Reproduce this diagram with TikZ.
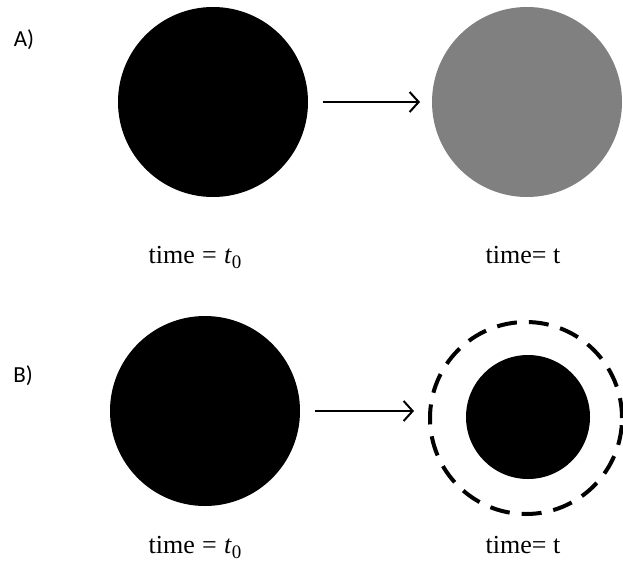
\documentclass[tikz,border=0pt]{standalone}
\usepackage{fontspec}
\setmainfont{Liberation Serif}
\newfontfamily\panelfont{Carlito}
\usepackage{tikz}
\usetikzlibrary{arrows.meta,positioning}
\definecolor{dropgray}{HTML}{808080}
\newcommand{\tzero}{\textit{t}\raisebox{-0.22em}{\fontsize{19}{21}\selectfont 0}}
\tikzset{
  drop/.style={circle,minimum size=#1,inner sep=0pt,outer sep=0pt},
  drop/.default={190pt},
  shell/.style={circle,draw=black,line width=4pt,dash pattern=on 20pt off 12pt,
    minimum size=192pt,inner sep=0pt},
  flow/.style={-{Straight Barb[length=9pt,width=20pt]},line width=2pt,
    shorten <=15pt,shorten >=12pt},
  timelabel/.style={anchor=base,font=\fontsize{26}{30}\selectfont,inner sep=0pt},
  panel/.style={font=\panelfont\fontsize{23}{27}\selectfont,inner sep=0pt},
}

\begin{document}
\begin{tikzpicture}[x=1pt,y=-1pt]
  \useasboundingbox (0,0) rectangle (623,565);
  % A) the drop keeps its size and turns grey
  \node[panel] (pa) at (24,40) {A)};
  \node[drop,fill=black] (a1) at (213,102) {};
  \node[drop,fill=dropgray] (a2) at (527,102) {};
  \draw[flow] (a1.east) -- (a2.west);
  \node[timelabel] (la1) at (195,263) {time\hspace{0.28em}=\hspace{0.28em}\tzero};
  \node[timelabel] (la2) at (523,263) {time= t};
  % B) the drop shrinks inside its old outline
  \node[panel] (pb) at (23,376) {B)};
  \node[drop,fill=black] (b1) at (205,411) {};
  \node[shell] (b2) at (526,418) {};
  \node[drop=124pt,fill=black] (b2in) at (528,417) {};
  \draw[flow,shorten >=14pt] (b1.east) -- (b2.west |- b1.east);
  \node[timelabel] (lb1) at (195,553) {time\hspace{0.28em}=\hspace{0.28em}\tzero};
  \node[timelabel] (lb2) at (523,553) {time= t};
\end{tikzpicture}
\end{document}
